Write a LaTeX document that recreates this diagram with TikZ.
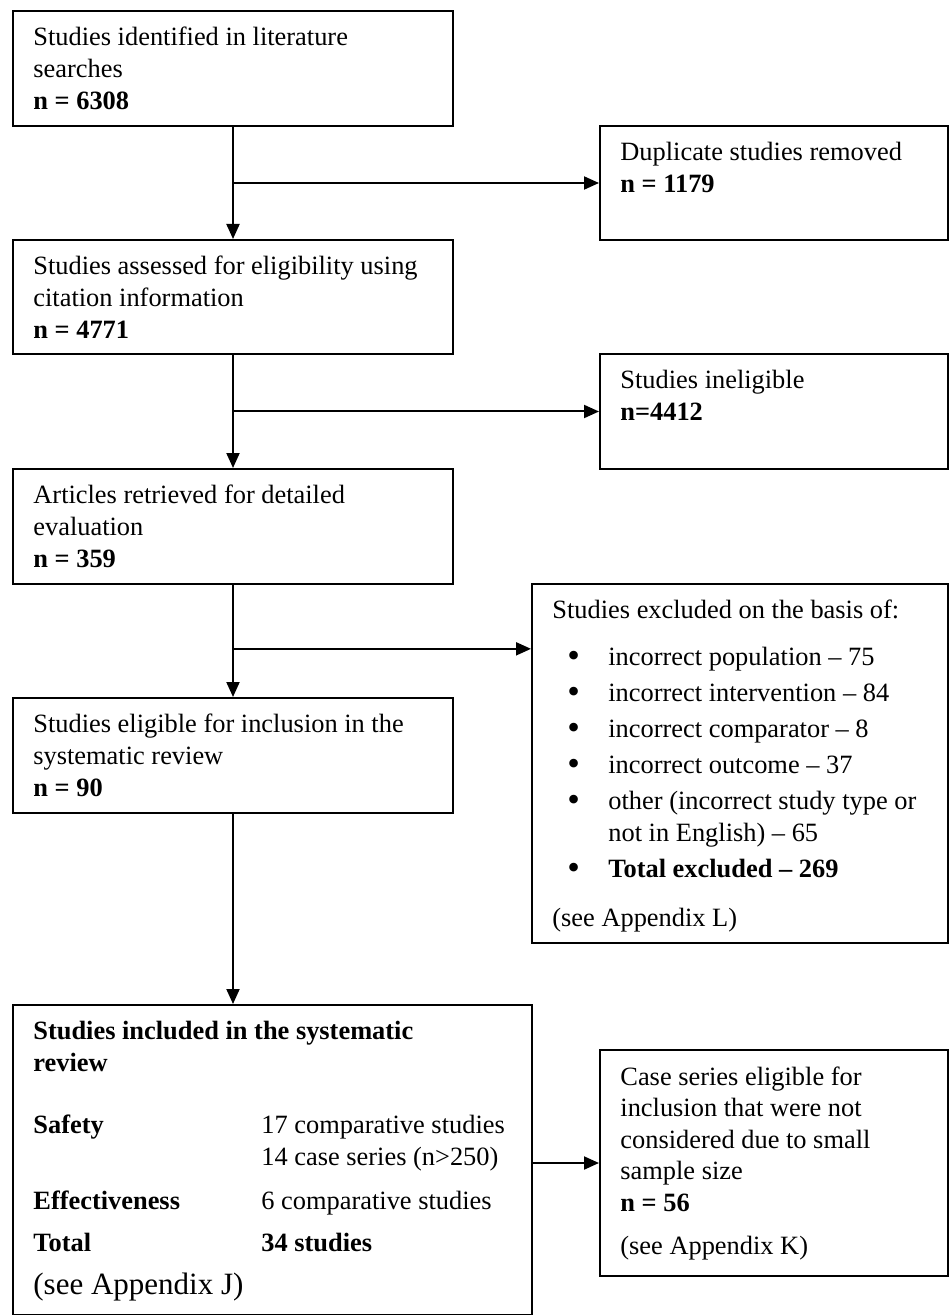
\documentclass[tikz,border=0pt]{standalone}
\usepackage{fontspec}
\setmainfont{Liberation Serif}
\usetikzlibrary{arrows.meta,calc,positioning}

\newcommand{\exbullet}{\hspace*{7.5pt}\makebox[20.5pt][l]{\raisebox{-1.2pt}{\fontsize{18pt}{15.8pt}\selectfont •}}}
\newcommand{\inclcol}[1]{\makebox[114pt][l]{#1}}

\tikzset{
  box/.style={draw, line width=1pt, anchor=north west, inner sep=0pt},
  txt/.style={anchor=north west, inner sep=0pt, align=left,
    font=\fontsize{13.2pt}{15.8pt}\selectfont},
  arr/.style={line width=1pt, -{Triangle[length=7.5pt,width=6.5pt]}}
}

\begin{document}
\begin{tikzpicture}[x=0.5pt, y=-0.5pt]
        \useasboundingbox (0,0) rectangle (949,1315);

        % Draw boxes of the main column
        \node[box, minimum width=220pt, minimum height=57.5pt] (idbox) at (12,10) {};
        \node[box, minimum width=220pt, minimum height=57pt] (assessbox) at (12,239) {};
        \node[box, minimum width=220pt, minimum height=57.5pt] (retrbox) at (12,468) {};
        \node[box, minimum width=220pt, minimum height=57.5pt] (eligbox) at (12,697) {};
        \node[box, minimum width=259.5pt, minimum height=155pt] (inclbox) at (12,1004) {};

        % Draw boxes on the right
        \node[box, minimum width=174pt, minimum height=57pt] (dupbox) at (599,125) {};
        \node[box, minimum width=174pt, minimum height=57.5pt] (inelbox) at (599,353) {};
        \node[box, minimum width=208pt, minimum height=179.5pt] (exclbox) at (531,583) {};
        \node[box, minimum width=174pt, minimum height=113pt] (casebox) at (599,1049) {};

        % Texts
        \node[txt, below right=8.5pt and 10.5pt of idbox.north west] (idtext)
            {Studies identified in literature\\searches\\\textbf{n = 6308}};
        \node[txt, below right=8.5pt and 10.5pt of assessbox.north west] (assesstext)
            {Studies assessed for eligibility using\\citation information\\\textbf{n = 4771}};
        \node[txt, below right=8.5pt and 10.5pt of retrbox.north west] (retrtext)
            {Articles retrieved for detailed\\evaluation\\\textbf{n = 359}};
        \node[txt, below right=8.5pt and 10.5pt of eligbox.north west] (eligtext)
            {Studies eligible for inclusion in the\\systematic review\\\textbf{n = 90}};
        \node[txt, below right=8.5pt and 10.5pt of dupbox.north west] (duptext)
            {Duplicate studies removed\\\textbf{n = 1179}};
        \node[txt, below right=8.5pt and 10.5pt of inelbox.north west] (ineltext)
            {Studies ineligible\\\textbf{n=4412}};
        \node[txt, below right=8.5pt and 10.5pt of exclbox.north west] (excltext)
            {Studies excluded on the basis of:\\[7.25pt]
             \exbullet incorrect population – 75\\[2.25pt]
             \exbullet incorrect intervention – 84\\[2.25pt]
             \exbullet incorrect comparator – 8\\[2.25pt]
             \exbullet incorrect outcome – 37\\[2.25pt]
             \exbullet other (incorrect study type or\\
             \hspace*{28pt}not in English) – 65\\[2.25pt]
             \exbullet \textbf{Total excluded – 269}\\[8.75pt]
             (see Appendix L)};
        \node[txt, below right=8.5pt and 10.5pt of inclbox.north west] (incltext)
            {\textbf{Studies included in the systematic}\\
             \textbf{review}\\[15.25pt]
             \inclcol{\textbf{Safety}}17 comparative studies\\
             \inclcol{}14 case series (n>250)\\[6.5pt]
             \inclcol{\textbf{Effectiveness}}6 comparative studies\\[5pt]
             \inclcol{\textbf{Total}}\textbf{34 studies}\\[6pt]
             {\fontsize{15.5pt}{15.8pt}\selectfont (see Appendix J)}};
        \node[txt, below right=8.5pt and 10.5pt of casebox.north west] (casetext)
            {Case series eligible for\\inclusion that were not\\considered due to small\\sample size\\\textbf{n = 56}\\[5.5pt]
             (see Appendix K)};

        % Draw arrows down the main column
        \foreach \a/\b in {idbox/assessbox, assessbox/retrbox, retrbox/eligbox}
            \draw[arr] (\a.south) -- (\b.north);
        \draw[arr] (eligbox.south) -- (eligbox.south |- inclbox.north);

        % Branches to the right
        \coordinate (dupfork) at ($(idbox.south)!0.5!(assessbox.north)$);
        \coordinate (inelfork) at ($(assessbox.south)!0.5!(retrbox.north)$);
        \coordinate (exclfork) at ($(retrbox.south)!0.57!(eligbox.north)$);
        \draw[arr] (dupfork) -- (dupfork -| dupbox.west);
        \draw[arr] (inelfork) -- (inelfork -| inelbox.west);
        \draw[arr] (exclfork) -- (exclfork -| exclbox.west);
        \draw[arr] (casebox.west -| inclbox.east) -- (casebox.west);
\end{tikzpicture}
\end{document}
